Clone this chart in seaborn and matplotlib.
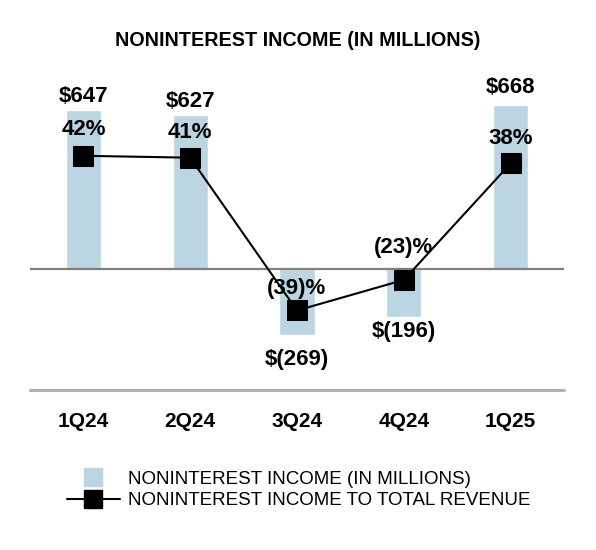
import matplotlib
matplotlib.use("Agg")
import matplotlib.pyplot as plt
from matplotlib.lines import Line2D
import seaborn as sns
import pandas as pd

quarters = ["1Q24", "2Q24", "3Q24", "4Q24", "1Q25"]
income = [647, 627, -269, -196, 668]
ratio = [42, 41, -39, -23, 38]
income_labels = ["$647", "$627", "$(269)", "$(196)", "$668"]
ratio_labels = ["42%", "41%", "(39)%", "(23)%", "38%"]

sns.set_style("white")
plt.rcParams["font.family"] = ["Liberation Sans", "DejaVu Sans"]
plt.rcParams["text.color"] = "black"
plt.rcParams["xtick.color"] = "black"

bar_color = "#bcd5e2"
df = pd.DataFrame({"quarter": quarters, "income": income, "ratio": ratio})

fig = plt.figure(figsize=(5.96, 5.50), dpi=100)
ax = fig.add_axes([30 / 596, 1 - 390 / 550, 534 / 596, 320 / 550])
sns.barplot(data=df, x="quarter", y="income", color=bar_color, width=0.33,
            saturation=1, ax=ax)
ax.set_xlim(-0.5, 4.5)
# zero at y=269 px, 0.245 px per unit
ax.set_ylim(-(390 - 269) / 0.245, (269 - 70) / 0.245)
ax.axhline(0, color="#808080", lw=1.6, zorder=1)
ax.axhline(ax.get_ylim()[0], color="#b0b0b0", lw=2.2, clip_on=False)
for s in ax.spines.values():
    s.set_visible(False)
ax.set_yticks([])
ax.set_xlabel("")
ax.set_ylabel("")
ax.tick_params(axis="x", length=0, pad=16, colors="black")
for lab in ax.get_xticklabels():
    lab.set_fontweight("bold")
    lab.set_fontsize(15)

ax2 = ax.twinx()
sns.lineplot(data=df, x="quarter", y="ratio", color="black", lw=1.5,
             marker="s", markersize=14, markeredgecolor="black", ax=ax2)
ax2.set_ylim(-(390 - 236) / 1.91, (236 - 70) / 1.91)
ax2.set_yticks([])
ax2.set_ylabel("")
for s in ax2.spines.values():
    s.set_visible(False)

# value labels
inc_off = [10, 10, -18, -10.5, 13]
for i, (v, t) in enumerate(zip(income, income_labels)):
    ax.annotate(t, (i, v), xytext=(0, inc_off[i]), textcoords="offset points",
                ha="center", va="center", fontsize=16, fontweight="bold")
rat_off = [19, 18, 16, 23, 18]
for i, (v, t) in enumerate(zip(ratio, ratio_labels)):
    ax2.annotate(t, (i, v), xytext=(0, rat_off[i]), textcoords="offset points",
                 ha="center", va="center", fontsize=16, fontweight="bold")

fig.text(0.5, 1 - 40 / 550, "NONINTEREST INCOME (IN MILLIONS)", ha="center",
         va="center", fontsize=14.2, fontweight="bold")

handles = [Line2D([], [], color="none", marker="s", markersize=13,
                  markerfacecolor=bar_color, markeredgecolor=bar_color),
           Line2D([], [], color="black", lw=1.5, marker="s", markersize=13)]
fig.legend(handles, ["NONINTEREST INCOME (IN MILLIONS)",
                     "NONINTEREST INCOME TO TOTAL REVENUE"],
           loc="center left", bbox_to_anchor=(67 / 596, 1 - 490 / 550),
           frameon=False, fontsize=13.5, handlelength=2.8, handletextpad=0.43,
           labelspacing=0.25, borderpad=0, borderaxespad=0)

fig.savefig("out.png", dpi=100)
